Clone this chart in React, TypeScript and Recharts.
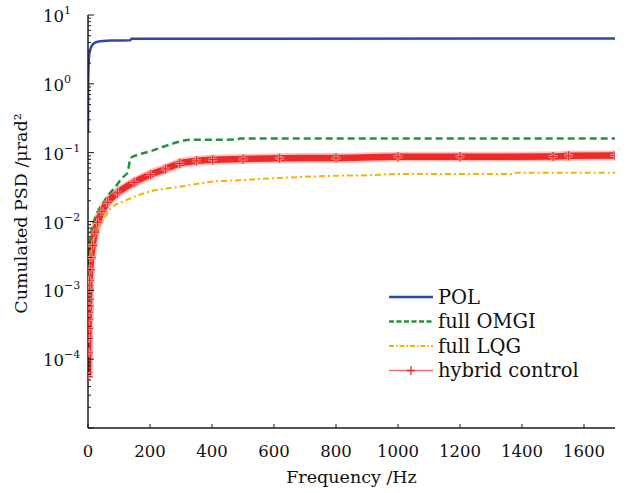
import { Label, Legend, Line, LineChart, XAxis, YAxis } from "recharts";

const FONT = "'DejaVu Serif', 'Liberation Serif', serif";
const AXIS = "#1a1a1a";

// POL
const polFreq = [0, 0.5, 1.5, 3, 6, 10, 14, 20, 31, 74, 136, 140, 1700];
const polPsd = [0.2, 0.8, 1.6, 2.4, 3.0, 3.4, 3.67, 3.9, 4.1, 4.25, 4.3, 4.5, 4.55];

// full OMGI
const omgiFreq = [0, 3, 7, 14, 30, 46, 68, 89, 110, 127, 138, 164, 202, 250, 296, 330, 480, 490, 1700];
const omgiPsd = [
  5e-4, 3e-3, 5.5e-3, 8.1e-3, 0.0134, 0.0177, 0.025, 0.032, 0.043, 0.051, 0.084, 0.094, 0.105, 0.125,
  0.145, 0.154, 0.155, 0.16, 0.16,
];

// full LQG
const lqgFreq = [0, 3, 8, 20, 40, 52, 73, 116, 202, 296, 402, 500, 618, 725, 779, 900, 1000, 1370, 1380, 1700];
const lqgPsd = [
  3e-4, 1.5e-3, 3e-3, 6e-3, 9e-3, 0.011, 0.0155, 0.0197, 0.0275, 0.032, 0.038, 0.04, 0.043, 0.045, 0.046,
  0.047, 0.049, 0.049, 0.051, 0.051,
];

// hybrid control
const hybFreq = [
  0, 0.5, 1, 1.5, 2, 2.5, 3, 3.5, 4, 5, 7, 10, 15, 22, 31, 45, 63, 95, 149, 202, 250, 296, 350, 402, 500,
  618, 800, 1000, 1200, 1500, 1550, 1700,
];
const hybPsd = [
  5.6e-5, 1.26e-4, 2e-4, 2.8e-4, 3.8e-4, 4.8e-4, 5.9e-4, 7.4e-4, 1e-3, 1.4e-3, 2e-3, 3e-3, 4.5e-3, 7e-3,
  9.7e-3, 0.014, 0.019, 0.026, 0.037, 0.048, 0.058, 0.07, 0.076, 0.079, 0.081, 0.083, 0.084, 0.087, 0.087,
  0.088, 0.09, 0.091,
];

const xTicks = [0, 200, 400, 600, 800, 1000, 1200, 1400, 1600];
const yDecades = [-5, -4, -3, -2, -1, 0, 1];
const yLabelled = [-4, -3, -2, -1, 0, 1];

const seriesNames = ["POL", "full OMGI", "full LQG", "hybrid control"];

const zip = (freq: number[], psd: number[]) => freq.map((f, i) => ({ f, v: psd[i] }));

const polData = zip(polFreq, polPsd);
const omgiData = zip(omgiFreq, omgiPsd);
const lqgData = zip(lqgFreq, lqgPsd);
const hybData = zip(hybFreq, hybPsd);

// major + minor log ticks
const yTicks: number[] = [];
yDecades.forEach((d) => {
  const top = d === 1 ? 1 : 9;
  for (let m = 1; m <= top; m++) yTicks.push(Number((m * Math.pow(10, d)).toPrecision(3)));
});

const COLORS = {
  pol: "#2b4aa6",
  omgi: "#24923a",
  lqg: "#f5b400",
  hyb: "#ec2a2a",
  hybLight: "#f59a9a",
};

function YTick(props: any) {
  const { x = 0, y = 0, payload } = props;
  const v = payload?.value ?? 1;
  const lg = Math.log10(v);
  const exp = Math.round(lg);
  const major = Math.abs(lg - exp) < 1e-6;
  return (
    <g>
      <line x1={x} x2={x + (major ? 6 : 3)} y1={y} y2={y} stroke={AXIS} strokeWidth={1} />
      {major && yLabelled.includes(exp) && (
        <text x={x - 45} y={y + 7} fontSize={16.5} fontFamily={FONT} fill="#111">
          10
          <tspan dy={-8} fontSize={11}>
            {exp < 0 ? `\u2212${-exp}` : `${exp}`}
          </tspan>
        </text>
      )}
    </g>
  );
}

function XTick(props: any) {
  const { x = 0, y = 0, payload } = props;
  return (
    <g>
      <line x1={x} x2={x} y1={y} y2={y - 4} stroke={AXIS} strokeWidth={1} />
      <text x={x} y={y + 29} textAnchor="middle" fontSize={16.5} fontFamily={FONT} fill="#111">
        {payload?.value}
      </text>
    </g>
  );
}

function PlusDot(props: any) {
  const { cx, cy } = props;
  if (cx == null || cy == null) return <g />;
  const d = `M${cx - 4.5},${cy}H${cx + 4.5}M${cx},${cy - 4.5}V${cy + 4.5}`;
  return (
    <g>
      <path d={d} stroke={COLORS.hybLight} strokeWidth={3} />
      <path d={d} stroke={COLORS.hyb} strokeWidth={1.2} />
    </g>
  );
}

function LegendIcon({ name }: { name: string }) {
  if (name === "POL")
    return <line x1={4} x2={48} y1={0} y2={0} stroke={COLORS.pol} strokeWidth={2.5} />;
  if (name === "full OMGI")
    return (
      <line x1={4} x2={48} y1={0} y2={0} stroke={COLORS.omgi} strokeWidth={2.5} strokeDasharray="5 2.5" />
    );
  if (name === "full LQG")
    return (
      <line x1={4} x2={48} y1={0} y2={0} stroke={COLORS.lqg} strokeWidth={2} strokeDasharray="5 2 1.5 2" />
    );
  return (
    <g>
      <line x1={4} x2={48} y1={0} y2={0} stroke="#f07070" strokeWidth={1.3} />
      <path d="M22,0H30M26,-4.5V4.5" stroke={COLORS.hyb} strokeWidth={1.3} />
    </g>
  );
}

function PsdLegend() {
  return (
    <svg width={230} height={100} style={{ display: "block" }}>
      {seriesNames.map((name, i) => (
        <g key={name} transform={`translate(0, ${12 + i * 24.5})`}>
          <LegendIcon name={name} />
          <text x={53} y={6.5} fontSize={19.5} fontFamily={FONT} fill="#111">
            {name}
          </text>
        </g>
      ))}
    </svg>
  );
}

function YAxisTitle(props: any) {
  const vb = props.viewBox ?? { x: 0, y: 0, width: 0, height: 0 };
  const cx = vb.x + 27;
  const cy = vb.y + vb.height / 2 - 8;
  return (
    <text
      x={cx}
      y={cy}
      transform={`rotate(-90, ${cx}, ${cy})`}
      textAnchor="middle"
      fontSize={17.5}
      fontFamily={FONT}
      fill="#111"
    >
      Cumulated PSD /μrad²
    </text>
  );
}

function XAxisTitle(props: any) {
  const vb = props.viewBox ?? { x: 0, y: 0, width: 0, height: 0 };
  return (
    <text x={vb.x + vb.width / 2} y={vb.y + 55} textAnchor="middle" fontSize={17.5} fontFamily={FONT} fill="#111">
      Frequency /Hz
    </text>
  );
}

export default function App() {
  return (
    <div style={{ position: "absolute", left: 0, top: 0, width: 626, height: 493, background: "#fff" }}>
      <LineChart width={626} height={493} margin={{ top: 15, right: 11, bottom: 0, left: 0 }}>
        <XAxis
          dataKey="f"
          type="number"
          domain={[0, 1700]}
          ticks={xTicks}
          interval={0}
          allowDataOverflow
          height={65}
          tickSize={0}
          tickMargin={0}
          tickLine={false}
          axisLine={{ stroke: AXIS, strokeWidth: 1.5 }}
          tick={(p: any) => <XTick {...p} />}
        >
          <Label content={(p: any) => <XAxisTitle {...p} />} />
        </XAxis>
        <XAxis
          xAxisId="top"
          orientation="top"
          type="number"
          domain={[0, 1700]}
          height={0}
          tick={false}
          tickLine={false}
          axisLine={{ stroke: AXIS, strokeWidth: 1.5 }}
        />
        <YAxis
          scale="log"
          type="number"
          domain={[1e-5, 10]}
          ticks={yTicks}
          interval={0}
          allowDataOverflow
          width={88}
          tickSize={0}
          tickMargin={0}
          tickLine={false}
          axisLine={{ stroke: AXIS, strokeWidth: 1.5 }}
          tick={(p: any) => <YTick {...p} />}
        >
          <Label content={(p: any) => <YAxisTitle {...p} />} />
        </YAxis>
        <YAxis
          yAxisId="right"
          orientation="right"
          scale="log"
          type="number"
          domain={[1e-5, 10]}
          allowDataOverflow
          width={0}
          tick={false}
          tickLine={false}
          axisLine={{ stroke: AXIS, strokeWidth: 1.5 }}
        />
        <Legend
          layout="vertical"
          align="center"
          verticalAlign="middle"
          wrapperStyle={{ left: 385, top: 284.5, width: 230 }}
          content={() => <PsdLegend />}
        />
        {/* hybrid: dense markers form a thick band */}
        <Line
          data={hybData}
          dataKey="v"
          name="hybrid band"
          legendType="none"
          type="monotone"
          stroke={COLORS.hybLight}
          strokeWidth={10}
          strokeOpacity={0.6}
          dot={false}
          activeDot={false}
          isAnimationActive={false}
        />
        <Line
          data={hybData}
          dataKey="v"
          name="hybrid control"
          type="monotone"
          stroke={COLORS.hyb}
          strokeWidth={6.5}
          dot={(p: any) => <PlusDot key={`hd-${p.index}`} {...p} />}
          activeDot={false}
          isAnimationActive={false}
        />
        <Line
          data={omgiData}
          dataKey="v"
          name="full OMGI"
          type="monotone"
          stroke={COLORS.omgi}
          strokeWidth={2.5}
          strokeDasharray="7 4"
          dot={false}
          activeDot={false}
          isAnimationActive={false}
        />
        <Line
          data={lqgData}
          dataKey="v"
          name="full LQG"
          type="monotone"
          stroke={COLORS.lqg}
          strokeWidth={2}
          strokeDasharray="6 3 2 3"
          dot={false}
          activeDot={false}
          isAnimationActive={false}
        />
        <Line
          data={polData}
          dataKey="v"
          name="POL"
          type="monotone"
          stroke={COLORS.pol}
          strokeWidth={2.5}
          dot={false}
          activeDot={false}
          isAnimationActive={false}
        />
      </LineChart>
    </div>
  );
}
